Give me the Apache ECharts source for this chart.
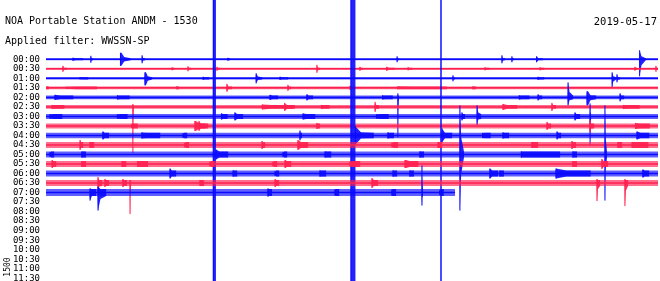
<!DOCTYPE html>
<html><head><meta charset="utf-8">
<script src="https://cdn.jsdelivr.net/npm/echarts@6/dist/echarts.min.js"></script>
<style>html,body{margin:0;padding:0;background:#fff}#c{width:660px;height:281px}</style>
</head><body><div id="c"></div>
<script>
// Helicorder: each row = 30 minutes, x in minutes within the row
const rowLabels = ['00:00','00:30','01:00','01:30','02:00','02:30','03:00','03:30','04:00','04:30','05:00','05:30',
                   '06:00','06:30','07:00','07:30','08:00','08:30','09:00','09:30','10:00','10:30','11:00','11:30'];
// minutes of data recorded in each row (rows 00:00 .. 07:00)
const traceEnd = [30,30,30,30,30,30,30,30,30,30,30,30,30,30,20.05];
// background noise half-amplitude per row (counts)
const noiseAmp = [1,1,1.2,1.3,1.8,1.8,2.5,2.5,2.7,3,3,3,3,3,3.5];
// events: [row, onset minute, amplitude up, amplitude down, hold minutes, coda minutes]
const events = [
 [0,1.32,1.5,1.5,0,0.5],[0,2.2,3.5,3.5,0,0.1],[0,3.65,6.5,6.5,0.05,0.45],[0,4.71,4,4,0,0.15],[0,8.92,1.5,1.5,0,0.1],
 [0,17.21,3,3,0,0.1],[0,22.35,4,4,0,0.15],[0,22.84,3,3,0,0.1],[0,24.05,3,3,0,0.3],[0,29.1,9,17,0,0.3],
 [1,0.83,3,3,0,0.2],[1,6.18,1.5,1.5,0,0.1],[1,6.96,2.5,2.5,0,0.15],[1,8.38,2,2,0,0.15],[1,13.28,4,4,0,0.15],
 [1,15.39,2,2,0,0.15],[1,16.7,2,2,0,0.4],[1,17.75,1.5,1.5,0,0.2],[1,21.52,1.5,1.5,0,0.2],[1,24.22,1.5,1.5,0,0.2],
 [1,28.87,2,2,0,0.1],[1,29.9,3,3,0,0.1],
 [2,1.67,1,1,0,0.4],[2,4.85,6,7,0.05,0.3],[2,7.7,1.5,1.5,0,0.3],[2,10.3,5,5,0,0.3],[2,11.47,1.5,1.5,0,0.4],
 [2,19.95,3,3,0,0.1],[2,24.12,1.5,1.5,0,0.3],[2,27.75,6,9,0,0.2],[2,27.99,4,4,0,0.15],
 [3,0.05,1.5,1.5,0,0.1],[3,1.0,1,1,0,1.5],[3,6.42,1.5,1.5,0,0.1],[3,8.87,4,4,0,0.25],[3,11.86,3,3,0,0.15],
 [3,14.9,2,2,0,0.1],[3,17.25,1.5,1.5,0,2.4],[3,20.93,1.5,1.5,0,0.15],
 [4,0.44,2.5,2.5,0,0.9],[4,3.5,2,2,0,0.6],[4,10.98,2.5,2.5,0,0.4],[4,12.79,3,3,0,0.3],[4,16.5,2,2,0,0.5],
 [4,17.25,4,40,0,0.05],[4,23.2,2,2,0,0.5],[4,24.12,3,3,0,0.2],[4,25.59,15,8,0,0.25],[4,26.52,6,8,0.05,0.4],[4,28.14,4,4,0,0.2],
 [5,0.3,2,2,0,0.6],[5,4.26,3,46,0,0.05],[5,10.6,2.5,2.5,0,1.6],[5,11.7,4,4,0,0.4],[5,13.5,2,2,0,0.4],
 [5,16.13,5,5,0,0.2],[5,22.4,3,3,0,0.7],[5,24.8,4,4,0,0.2],[5,28.3,2,2,0,0.8],
 [6,0.2,2,2,0,0.6],[6,3.5,2,2,0,0.5],[6,8.6,3,3,0,0.3],[6,9.26,4,4,0,0.4],[6,12.6,3,3,0,0.6],[6,16.2,2,2,0,0.6],
 [6,20.39,4,4,0,0.15],[6,21.13,11,9,0,0.2],[6,25.93,4,4,0,0.25],[6,26.67,13,29,0,0.05],
 [7,4.2,2,2,0,0.3],[7,7.3,5,5,0.05,0.6],[7,7.5,5,5,0,0.3],[7,13.28,3,3,0,0.15],[7,24.56,4,4,0,0.2],
 [7,26.67,6,6,0,0.2],[7,28.9,3,3,0,0.7],
 [8,2.79,4,4,0,0.3],[8,4.7,3,3,0,0.9],[8,6.72,2,2,0,0.2],[8,12.45,5,5,0,0.1],[8,14.95,999,999,0.22,0],[8,15.17,9,9,0,0.9],
 [8,16.76,3,3,0,0.3],[8,19.36,999,999,0.03,0],[8,19.41,7,7,0,0.5],[8,21.4,2.5,2.5,0,0.4],[8,22.4,3,3,0,0.3],
 [8,25.05,4,4,0,0.2],[8,28.97,4,4,0,0.6],
 [9,1.67,5,5,0,0.15],[9,2.16,3,3,0,0.2],[9,6.81,2,2,0,0.2],[9,10.59,4,4,0,0.15],[9,12.35,5,5,0,0.5],
 [9,16.96,2,2,0,0.3],[9,19.22,3,3,0,0.2],[9,23.82,3,3,0,0.3],[9,25.78,4,4,0,0.2],[9,28.04,3,3,0,0.2],[9,28.73,3,3,0,0.8],
 [10,0.2,2,2,0,0.2],[10,1.76,3,3,0,0.2],[10,8.2,999,999,0.13,0],[10,8.33,5,5,0,0.6],[10,11.62,2,2,0,0.2],[10,13.68,3,3,0,0.3],
 [10,18.33,3,3,0,0.2],[10,20.29,49,56,0,0.2],[10,23.3,3,3,0,1.9],[10,25.83,3,3,0,0.2],[10,27.4,49,46,0,0.1],
 [11,0.3,4,4,0,0.2],[11,1.76,3,3,0,0.2],[11,3.73,3,3,0,0.2],[11,4.5,3,3,0,0.5],[11,8.04,2,2,0,0.2],
 [11,11.13,2,2,0,0.2],[11,11.72,4,4,0,0.3],[11,14.9,2,2,0,0.5],[11,17.6,4,4,0.05,0.6],[11,25.83,3,3,0,0.2],[11,27.25,5,5,0,0.3],
 [12,6.08,5,5,0,0.3],[12,9.17,3,3,0,0.2],[12,11.23,2,2,0,0.2],[12,13.43,3,3,0,0.3],[12,17.01,3,3,0,0.2],
 [12,17.84,3,3,0,0.2],[12,21.76,5,5,0,0.4],[12,22.25,3,3,0,0.2],[12,25.0,5,5,0,1.7],[12,29.26,4,4,0,0.3],
 [13,2.55,6,10,0,0.2],[13,2.89,4,4,0,0.2],[13,3.77,4,4,0,0.2],[13,4.12,3,31,0,0.05],[13,7.55,3,3,0,0.2],
 [13,11.23,4,4,0,0.2],[13,15.98,5,5,0,0.3],[13,27.01,4,18,0,0.15],[13,28.38,4,23,0,0.15],
 [14,2.16,4,8,0,0.3],[14,2.55,6,18,0,0.4],[14,10.88,4,4,0,0.2],[14,14.17,3,3,0,0.2],[14,16.96,3,3,0,0.2],
 [14,18.43,27,13,0,0.05],[14,19.3,2,2,0,0.2]
];
const titleText = 'NOA Portable Station ANDM - 1530';
const filterText = 'Applied filter: WWSSN-SP';
const dateText = '2019-05-17';
const scaleText = '1500';

const COUNTS_PER_ROW = 9.5;
const BLUE = '#0a0aff', RED = '#ff2050';
const MONO = '"DejaVu Sans Mono", "Liberation Mono", monospace';

const rowData = traceEnd.map((e, i) => [i, e, noiseAmp[i]]);

function renderRow(params, api) {
  const row = api.value(0), end = api.value(1), noise = api.value(2);
  const color = row % 2 ? RED : BLUE;
  const c = (t, dy) => api.coord([t, row + dy / COUNTS_PER_ROW]);
  const children = [];
  const a = c(0, -noise), b = c(end, noise);
  children.push({type:'rect', shape:{x:a[0], y:a[1], width:b[0]-a[0], height:b[1]-a[1]},
    style:{fill:color, opacity:0.65}});
  const l0 = c(0, 0), l1 = c(end, 0);
  children.push({type:'line', shape:{x1:l0[0], y1:l0[1], x2:l1[0], y2:l1[1]},
    style:{stroke:color, lineWidth:1.5}});
  events.filter(e => e[0] === row).forEach(e => {
    const [, t0, up, dn, hold, coda] = e;
    const t1 = t0 + hold, t2 = t1 + coda;
    if (hold > 0 || coda > 0) {
      const tm = t1 + coda * 0.3;
      const um = Math.max(noise, up * 0.35), dm = Math.max(noise, dn * 0.35);
      const pts = [c(t0 - 0.02, -noise), c(t0, -up), c(t1, -up), c(tm, -um), c(t2, -noise),
                   c(t2, noise), c(tm, dm), c(t1, dn), c(t0, dn), c(t0 - 0.02, noise)];
      children.push({type:'polygon', shape:{points:pts}, style:{fill:color, opacity:0.9}});
    }
    const s0 = c(t0, -up), s1 = c(t0, dn);
    children.push({type:'line', shape:{x1:s0[0], y1:s0[1], x2:s1[0], y2:s1[1]},
      style:{stroke:color, lineWidth:1}});
  });
  return {type:'group', children};
}

const chart = echarts.init(document.getElementById('c'), null, {renderer:'canvas'});
chart.setOption({
  animation:false,
  backgroundColor:'#fff',
  grid:{left:46, right:2, top:0, bottom:0, containLabel:false, outerBoundsMode:'none'},
  xAxis:{type:'value', min:0, max:30, show:false},
  yAxis:{type:'value', inverse:true, min:-6.23, max:23.29,
    axisLine:{show:false}, axisTick:{show:false}, splitLine:{show:false},
    axisLabel:{customValues: rowLabels.map((_, i) => i), formatter: v => rowLabels[Math.round(v)],
      fontFamily:MONO, fontSize:9, color:'#000', margin:6}},
  graphic:[
    {type:'text', x:5, y:21.5, style:{text:titleText, font:'10px ' + MONO, fill:'#000', verticalAlign:'middle'}},
    {type:'text', x:5, y:41.5, style:{text:filterText, font:'10px ' + MONO, fill:'#000', verticalAlign:'middle'}},
    {type:'text', x:657, y:22, style:{text:dateText, font:'10.5px ' + MONO, fill:'#000', align:'right', verticalAlign:'middle'}},
    {type:'text', x:8, y:267, rotation:Math.PI/2, style:{text:scaleText, font:'8px ' + MONO, fill:'#000', align:'center', verticalAlign:'middle'}}
  ],
  series:[{type:'custom', renderItem:renderRow, data:rowData, clip:true, silent:true}]
});
</script></body></html>
